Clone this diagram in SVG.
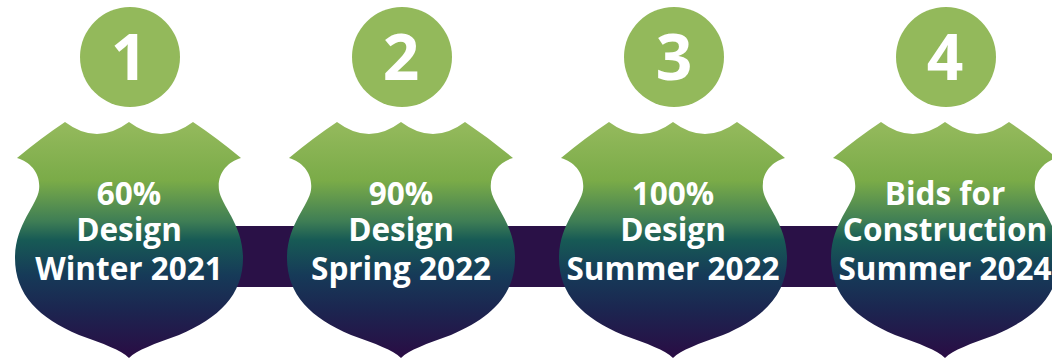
<svg xmlns="http://www.w3.org/2000/svg" width="1052" height="359" viewBox="0 0 1052 359">
  <defs>
    <linearGradient id="shieldGrad" x1="0" y1="0" x2="0" y2="1">
      <stop offset="0" stop-color="#95ba5d"/>
      <stop offset="0.25" stop-color="#7aab48"/>
      <stop offset="0.42" stop-color="#3f7e55"/>
      <stop offset="0.5" stop-color="#175a55"/>
      <stop offset="0.65" stop-color="#163a58"/>
      <stop offset="0.8" stop-color="#1c2550"/>
      <stop offset="1" stop-color="#2a0c44"/>
    </linearGradient>
    <path id="shield" d="M -112 158 Q -88 138 -64 122 Q -32 146 0 122 Q 32 146 64 122 Q 88 138 112 158 C 98 162 88 174 90 190 C 92 205 114 225 114 258 C 114 295 90 318 50 335 C 25 344 8 350 0 358 C -8 350 -25 344 -50 335 C -90 318 -114 295 -114 258 C -114 225 -92 205 -90 190 C -88 174 -98 162 -112 158 Z"/>
  </defs>
  <style>
    .circle { fill: #93b95b; }
    .num { font-family: "Open Sans", "Liberation Sans", sans-serif; font-weight: 700; font-size: 64px; fill: #ffffff; text-anchor: middle; }
    .lbl { font-family: "Open Sans", "Liberation Sans", sans-serif; font-weight: 700; font-size: 31.5px; fill: #ffffff; text-anchor: middle; }
    .shield { fill: url(#shieldGrad); }
    .bar { fill: #2a1147; }
  </style>
  <g id="connectors">
    <rect class="bar" x="200" y="226" width="700" height="61"/>
  </g>
  <g id="step1">
    <circle class="circle" cx="130" cy="57" r="50"/>
    <text class="num" x="129" y="80">1</text>
    <use href="#shield" class="shield" x="129" y="0"/>
    <text class="lbl" x="129" y="205">60%</text>
    <text class="lbl" x="129" y="241">Design</text>
    <text class="lbl" x="129" y="280">Winter 2021</text>
  </g>
  <g id="step2">
    <circle class="circle" cx="402" cy="57" r="50"/>
    <text class="num" x="401" y="80">2</text>
    <use href="#shield" class="shield" x="401" y="0"/>
    <text class="lbl" x="401" y="205">90%</text>
    <text class="lbl" x="401" y="241">Design</text>
    <text class="lbl" x="401" y="280">Spring 2022</text>
  </g>
  <g id="step3">
    <circle class="circle" cx="674" cy="57" r="50"/>
    <text class="num" x="674" y="80">3</text>
    <use href="#shield" class="shield" x="673" y="0"/>
    <text class="lbl" x="673" y="205">100%</text>
    <text class="lbl" x="673" y="241">Design</text>
    <text class="lbl" x="673" y="280">Summer 2022</text>
  </g>
  <g id="step4">
    <circle class="circle" cx="946" cy="57" r="50"/>
    <text class="num" x="945" y="80">4</text>
    <use href="#shield" class="shield" x="945" y="0"/>
    <text class="lbl" x="945" y="205">Bids for</text>
    <text class="lbl" x="945" y="241">Construction</text>
    <text class="lbl" x="945" y="280">Summer 2024</text>
  </g>
</svg>
